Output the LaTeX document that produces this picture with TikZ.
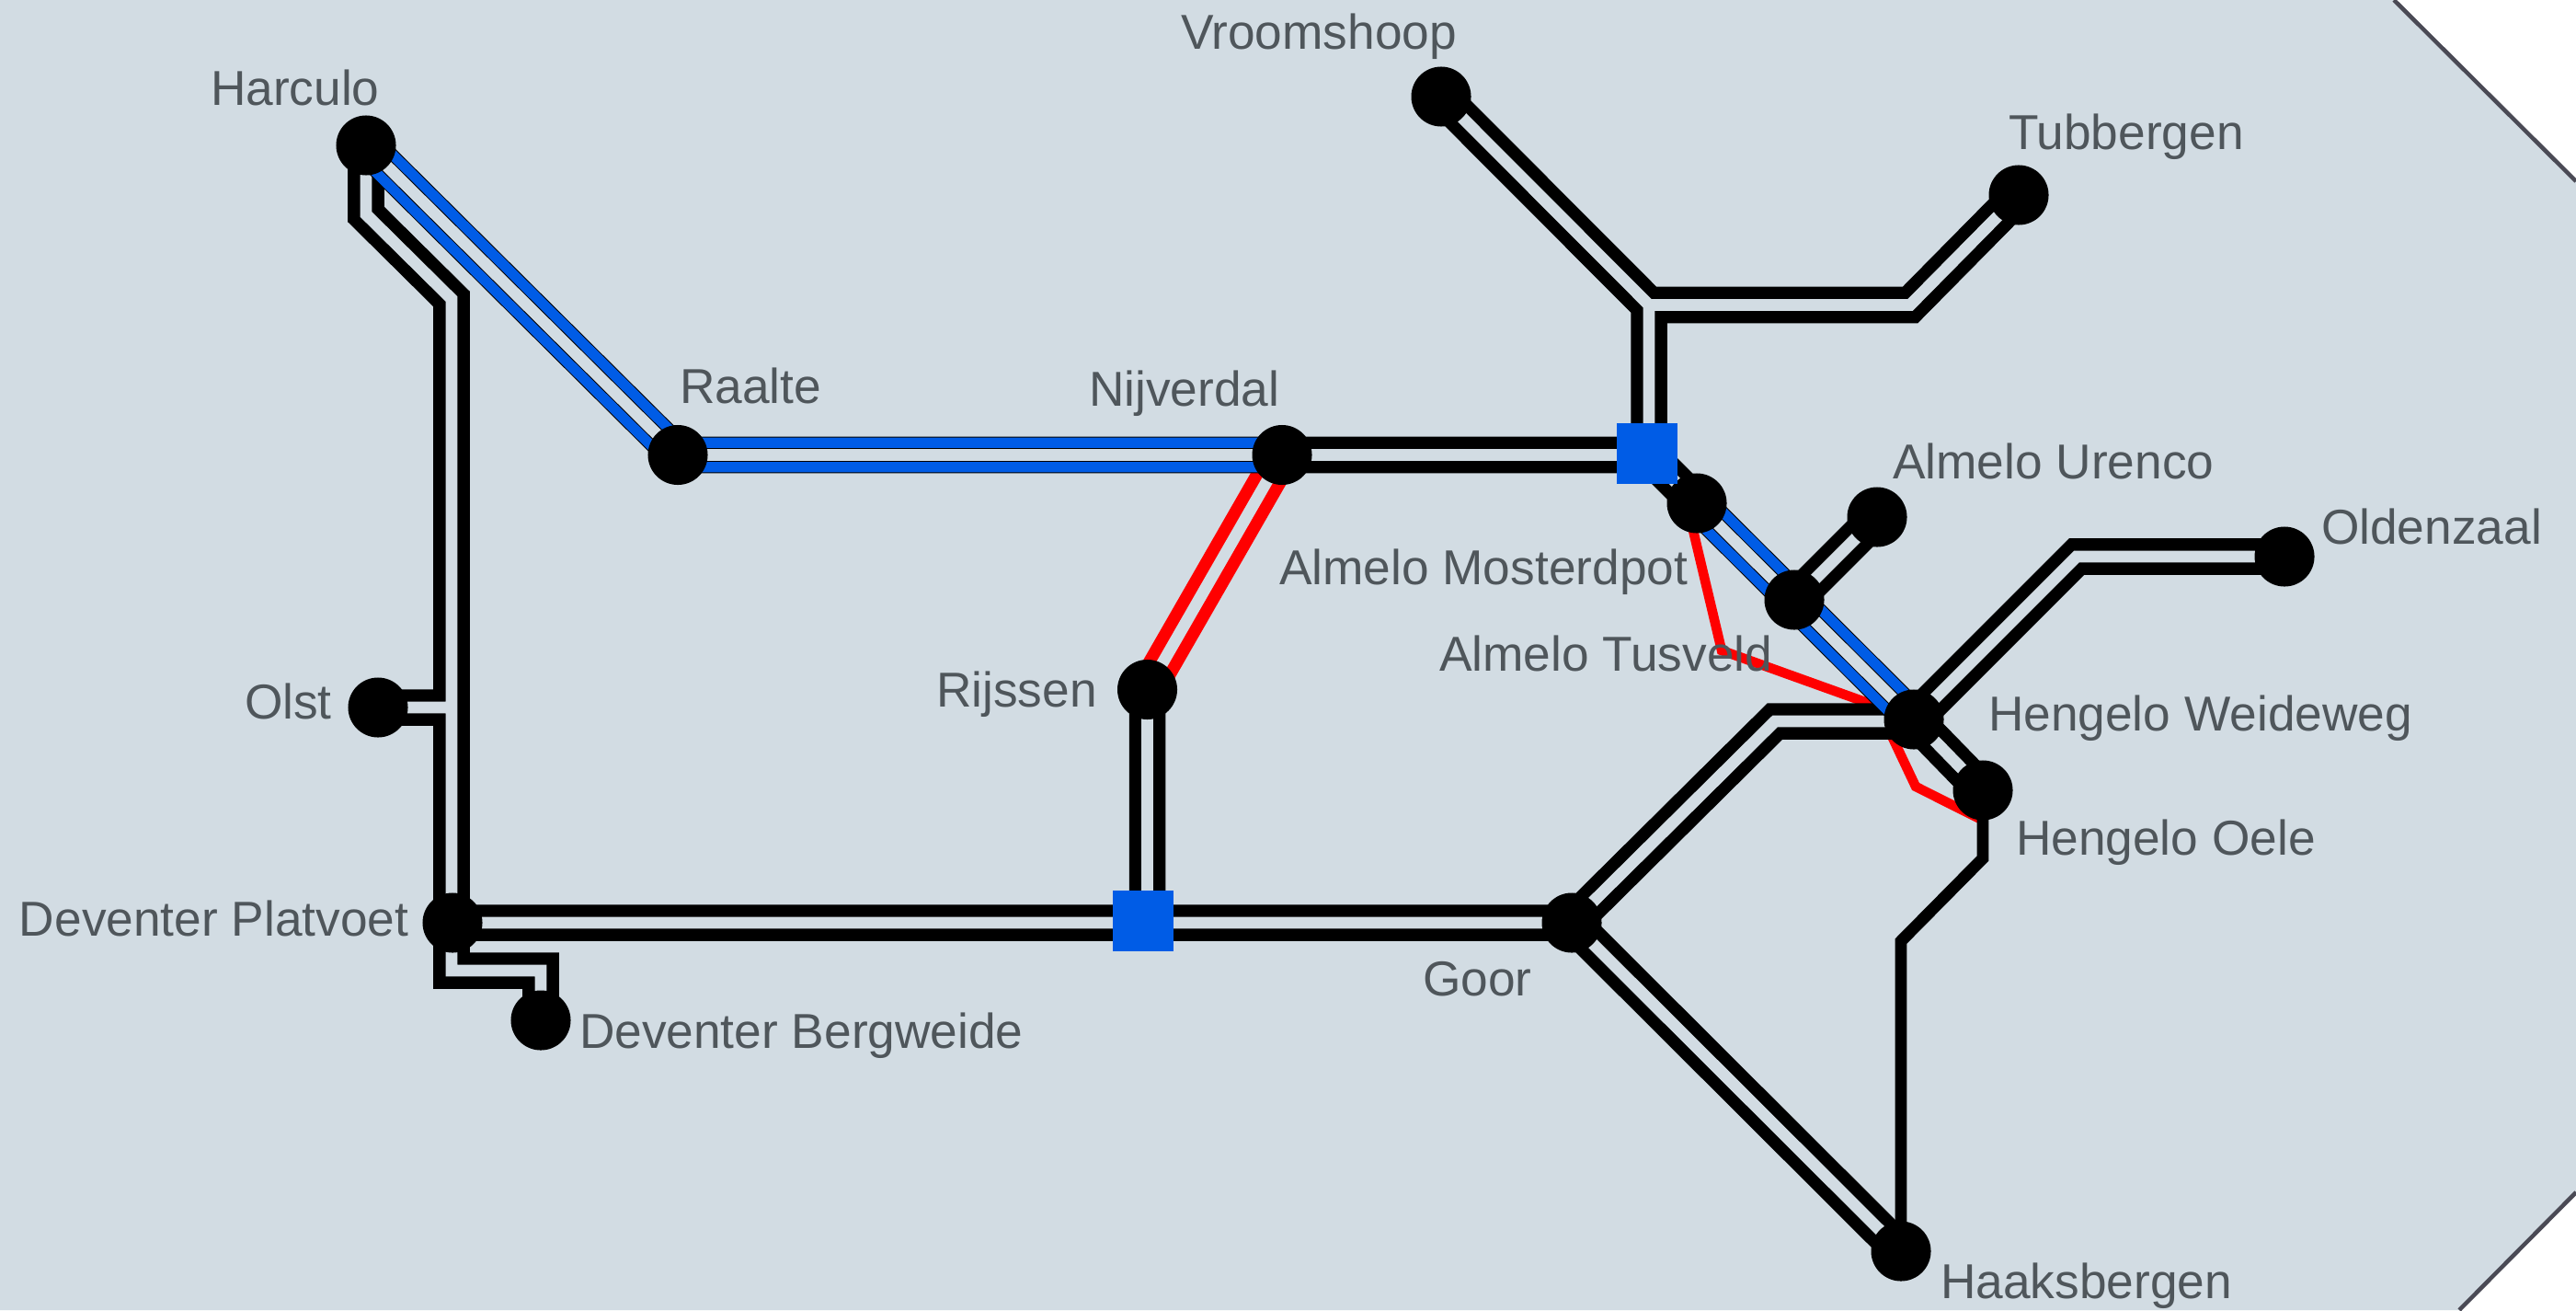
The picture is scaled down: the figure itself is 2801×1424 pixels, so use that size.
\documentclass[tikz,border=0pt]{standalone}
\usepackage{fontspec}
\setmainfont{Liberation Sans}
\pgfdeclarelayer{under}
\pgfsetlayers{under,main}
\definecolor{panel}{HTML}{D2DCE3}
\definecolor{edge}{HTML}{4A4A55}
\definecolor{ink}{HTML}{4F565B}
\definecolor{hub}{HTML}{005CE6}
\definecolor{railred}{HTML}{FF0000}
\tikzset{
  stn/.style={circle,fill=black,draw=none,minimum size=0.65cm,inner sep=0pt,outer sep=0pt},
  hubbox/.style={rectangle,fill=hub,draw=none,minimum width=0.66cm,minimum height=0.66cm,inner sep=0pt,outer sep=0pt},
  lbl/.style={anchor=base west,inner sep=0pt,outer sep=0pt,text=ink,font=\fontsize{15.15}{18}\selectfont},
  wideout/.style={line width=0.395cm,line join=miter,miter limit=10},
  widein/.style={line width=0.128cm,line join=miter,miter limit=10},
}
\begin{document}
\begin{tikzpicture}[x=0.01cm,y=-0.01cm]
\useasboundingbox (0,0) rectangle (2801,1424);
% stations
\node[stn] (harculo) at (398,158) {};
\node[stn] (raalte) at (737,494.5) {};
\node[stn] (nijverdal) at (1394,494.5) {};
\node[stn] (rijssen) at (1247.5,749.5) {};
\node[stn] (goor) at (1709,1003) {};
\node[stn] (platvoet) at (492,1003) {};
\node[stn] (olst) at (411,769) {};
\node[stn] (bergweide) at (588,1109) {};
\node[stn] (haaks) at (2067,1360) {};
\node[stn] (oele) at (2156,859) {};
\node[stn] (weide) at (2081,782) {};
\node[stn] (tusveld) at (1951,652) {};
\node[stn] (urenco) at (2041,562) {};
\node[stn] (mosterd) at (1845,547) {};
\node[stn] (vroom) at (1567,105) {};
\node[stn] (tubb) at (2195,212) {};
\node[stn] (olden) at (2484,605) {};
\node[hubbox] (hubA) at (1791,493) {};
\node[hubbox] (hubB) at (1243,1001) {};
% bends
\coordinate (b1) at (398,233);
\coordinate (b2) at (491,325);
\coordinate (b3) at (491,1055);
\coordinate (b4) at (588,1055);
\coordinate (b5) at (491,769);
\coordinate (b6) at (1793,331.5);
\coordinate (b7) at (2077,331.5);
\coordinate (b8) at (1793,493);
\coordinate (b9) at (1930,784);
\coordinate (b10) at (2258,605);
\coordinate (b11) at (2067,1023);
\coordinate (b12) at (2156,933);
\coordinate (r1) at (1872,707);
\coordinate (r2) at (2083,855);
\coordinate (r3) at (1834,547);
\def\BlackNet{
  (harculo.center) -- (b1) -- (b2) -- (b2 |- platvoet.center)
  (olst.center) -- (b5)
  (b2 |- platvoet.center) -- (b3) -- (b4) -- (bergweide.center)
  (platvoet.center) -- (goor.center)
  (rijssen.center) -- (rijssen.center |- hubB.center)
  (goor.center) -- (b9) -- (weide.center |- b9)
  (goor.center) -- (haaks.center)
  (nijverdal.center) -- (hubA.center |- nijverdal.center)
  (vroom.center) -- (b6) -- (b8)
  (b6) -- (b7) -- (tubb.center)
  (hubA.center) -- (mosterd.center)
  (tusveld.center) -- (urenco.center)
  (weide.center) -- (b10) -- (olden.center)
  (weide.center) -- (oele.center)
}
\def\BlueNet{
  (harculo.center) -- (raalte.center) -- (nijverdal.center)
  (mosterd.center) -- (weide.center)
}
\begin{pgfonlayer}{under}
  \fill[panel] (0,0) -- (2603,0) -- (2801,197) -- (2801,1296) -- (2674,1424) -- (0,1424) -- cycle;
  \draw[edge,line width=0.045cm] (2603,0) -- (2801,197);
  \draw[edge,line width=0.045cm] (2801,1296) -- (2674,1424);
  % single red branches
  \draw[railred,line width=0.105cm,line join=miter] (r3) -- (r1) -- (weide.center);
  \draw[railred,line width=0.105cm,line join=miter] (weide.west) -- (r2) -- (oele.south);
  % double black
  \draw[black,wideout] \BlackNet;
  \draw[panel,widein] \BlackNet;
  % double red
  \draw[railred,wideout] (nijverdal.center) -- (rijssen.center);
  \draw[panel,widein] (nijverdal.center) -- (rijssen.center);
  % double blue with hair edges
  \draw[black,wideout] \BlueNet;
  \draw[hub,line width=0.375cm,line join=miter] \BlueNet;
  \draw[black,line width=0.148cm,line join=miter] \BlueNet;
  \draw[panel,widein] \BlueNet;
  % single black
  \draw[black,line width=0.128cm,line join=miter] (haaks.center) -- (b11) -- (b12) -- (oele.center);
\end{pgfonlayer}
% labels
\node[lbl] (t1) at (1284,53) {Vroomshoop};
\node[lbl] (t2) at (229,114) {Harculo};
\node[lbl] (t3) at (2184,162) {Tubbergen};
\node[lbl] (t4) at (739,438) {Raalte};
\node[lbl] (t5) at (1184,441) {Nijverdal};
\node[lbl] (t6) at (2058,520) {Almelo Urenco};
\node[lbl] (t7) at (2524,591) {Oldenzaal};
\node[lbl] (t8) at (1391,635) {Almelo Mosterdpot};
\node[lbl] (t9) at (1565,729) {Almelo Tusveld};
\node[lbl] (t10) at (1018,768) {Rijssen};
\node[lbl] (t11) at (2162,794) {Hengelo Weideweg};
\node[lbl] (t12) at (2192,929) {Hengelo Oele};
\node[lbl] (t13) at (266,781) {Olst};
\node[lbl] (t14) at (21,1017) {Deventer Platvoet};
\node[lbl] (t15) at (630,1139) {Deventer Bergweide};
\node[lbl] (t16) at (1547,1082) {Goor};
\node[lbl] (t17) at (2110,1411) {Haaksbergen};
\end{tikzpicture}
\end{document}
